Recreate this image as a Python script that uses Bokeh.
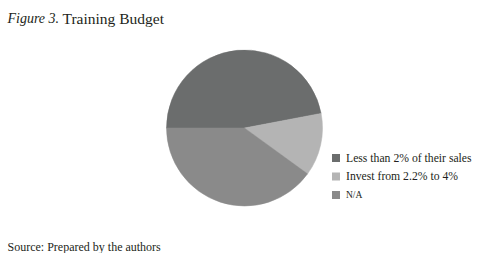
import numpy as np
from bokeh.plotting import figure
from bokeh.models import Range1d, ColumnDataSource
from bokeh.core.properties import value
from bokeh.embed import file_html
from bokeh.resources import INLINE

# ---- data ----
categories = ["Less than 2% of their sales", "Invest from 2.2% to 4%", "N/A"]
shares = [47, 13, 40]
colors = ["#6b6d6d", "#b4b4b4", "#8a8a8a"]
legend_labels = ["Less than 2% of their sales", "Invest from 2.2% to 4%", "N/A"]
title_italic = "Figure 3."
title_text = "Training Budget"
source_text = "Source: Prepared by the authors"

W, H = 479, 253
FONT = "Liberation Serif"
TXT = "#231f20"

p = figure(width=W, height=H, output_backend="svg", toolbar_location=None,
           x_range=Range1d(0, W), y_range=Range1d(0, H),
           min_border=0, x_axis_location=None, y_axis_location=None,
           outline_line_color=None, background_fill_color="white",
           border_fill_color="white")
p.grid.visible = False

# ---- pie: starts at 9 o'clock, runs clockwise ----
frac = np.array(shares, dtype=float) / sum(shares)
cum = np.concatenate([[0], np.cumsum(frac)])
ang_hi = np.pi - 2 * np.pi * cum[:-1]
ang_lo = np.pi - 2 * np.pi * cum[1:]
cx, cy, r = 244, 125.5, 78
pie = ColumnDataSource(dict(start=ang_lo, end=ang_hi, color=colors, cat=categories))
p.wedge(x=cx, y=cy, radius=r, start_angle="start", end_angle="end",
        direction="anticlock", fill_color="color", line_color="color",
        line_width=0.5, source=pie)

# ---- legend ----
ly = [95.5, 77.0, 58.5]
p.scatter(x=[335.5] * 3, y=ly, marker="square", size=8,
          fill_color=colors, line_color=None)
sizes = ["11.7px", "11.7px", "9.5px"]
for lab, yy, fs in zip(legend_labels, ly, sizes):
    p.text(x=[345.5], y=[yy], text=[lab], text_font=value(FONT),
           text_font_size=fs, text_color=TXT, text_baseline="middle",
           text_align="left")

# ---- title ----
p.text(x=[7], y=[235.5], text=[title_italic], text_font=value(FONT),
       text_font_style="italic", text_font_size="14px", text_color=TXT,
       text_baseline="alphabetic", text_align="left")
p.text(x=[62], y=[235.5], text=[title_text], text_font=value(FONT),
       text_font_size="15.5px", text_color=TXT,
       text_baseline="alphabetic", text_align="left")

# ---- source ----
p.text(x=[7], y=[7], text=[source_text], text_font=value(FONT),
       text_font_size="12px", text_color=TXT,
       text_baseline="alphabetic", text_align="left")

open("out.html", "w").write(file_html(p, INLINE))
